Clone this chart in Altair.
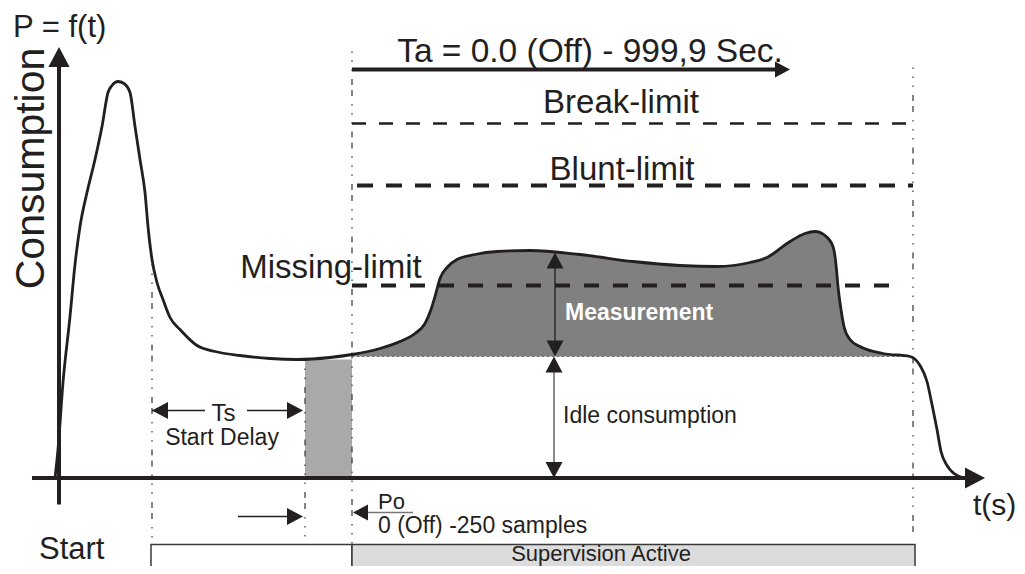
import altair as alt
import pandas as pd

# ---------------- data (t = time units, P = consumption units) ----------------
curve_t = [-0.4, -0.1, 0.4, 1.1, 1.6, 2.1, 2.8, 3.6, 4.3, 4.9, 5.3, 5.9, 6.5, 7.1, 7.6, 8.1,
           8.6, 8.9, 9.3, 9.8, 10.4, 11.1, 12.1, 13.8, 15.6, 18.1, 21.1, 23.8, 27.1, 29.3,
           32.1, 34.1, 35.6, 36.6, 37.2, 37.6, 38.1, 38.9, 39.8, 41.6, 43.8, 47.1, 52.1,
           57.4, 62.1, 65.8, 69.1, 70.8, 73.1, 74.6, 75.6, 76.6, 77.4, 77.7, 77.9, 78.2,
           78.5, 79.1, 80.1, 82.4, 85.1, 86.1, 86.8, 87.3, 87.8, 88.2, 88.8, 89.5, 90.4]
curve_p = [0.0, 2.85, 9.55, 16.15, 21.35, 25.15, 28.55, 31.85, 35.15, 38.55, 39.25, 39.65,
           39.45, 38.55, 35.15, 31.85, 28.55, 25.15, 21.85, 19.55, 17.85, 16.05, 14.85, 13.25,
           12.65, 12.25, 11.95, 11.85, 12.05, 12.35, 12.95, 13.65, 14.45, 15.45, 16.85, 18.15,
           19.95, 21.15, 21.85, 22.35, 22.65, 22.75, 22.35, 21.65, 21.25, 21.15, 21.55, 22.05,
           23.65, 24.45, 24.65, 24.25, 23.15, 21.35, 19.15, 16.85, 15.15, 13.85, 13.15, 12.45,
           12.15, 11.25, 9.65, 7.35, 4.85, 2.65, 1.25, 0.45, 0.05]

idle_level = 12.15
meas_range = [29.3, 85.1]
pre_window = [24.6, 29.3, 0.0, 11.85]          # t1, t2, P1, P2 (Po window)

limit_names = ["Break-limit", "Blunt-limit", "Missing-limit"]
limit_levels = [35.45, 29.25, 19.25]
limit_starts = [29.3, 29.8, 29.3]
limit_ends = [85.4, 85.4, 84.4]

marker_times = [9.3, 24.6, 29.3, 85.4]
marker_tops = [21.35, 11.85, 42.65, 41.05]
marker_bottoms = [-10.0, -10.0, -6.65, -6.15]

box_starts = [9.2, 29.3]
box_ends = [29.3, 85.6]
box_top, box_bottom = -6.65, -10.0

X_DOM = [-5.1, 95.8]
Y_DOM = [-8.8, 47.0]

INK = "#231f20"
FONT = "Liberation Sans, Arial, Helvetica, sans-serif"
HEAD = "M0,0L0.53,1L-0.53,1Z"


def X(f):
    return alt.X(f, type="quantitative", scale=alt.Scale(domain=X_DOM, nice=False, zero=False), axis=None)


def Y(f):
    return alt.Y(f, type="quantitative", scale=alt.Scale(domain=Y_DOM, nice=False, zero=False), axis=None)


def rules(rows, **mark):
    df = pd.DataFrame(rows, columns=["t", "p", "t2", "p2"])
    return alt.Chart(df).mark_rule(**mark).encode(
        x=X("t"), y=Y("p"), x2=alt.X2("t2"), y2=alt.Y2("p2"))


def heads(pts, angle, size, color=INK):
    df = pd.DataFrame(pts, columns=["t", "p"])
    return alt.Chart(df).mark_point(shape=HEAD, filled=True, size=size, angle=angle,
                                    color=color, opacity=1, strokeWidth=0).encode(
        x=X("t"), y=Y("p"))


def label(text, t, p, size, align="left", color=INK, weight="normal", angle=0):
    df = pd.DataFrame({"t": [t], "p": [p], "txt": [text]})
    kw = dict(align=align, baseline="alphabetic", fontSize=size, font=FONT,
              color=color, fontWeight=weight)
    if angle:
        kw["angle"] = angle
    return alt.Chart(df).mark_text(**kw).encode(x=X("t"), y=Y("p"), text="txt:N")


curve_df = pd.DataFrame({"t": curve_t, "p": curve_p})
meas_df = curve_df[(curve_df.t >= meas_range[0]) & (curve_df.t <= meas_range[1])].copy()
meas_df["base"] = idle_level

layers = []

# light grey window before supervision
win = pd.DataFrame({"t": [pre_window[0]], "t2": [pre_window[1]], "p": [pre_window[2]], "p2": [pre_window[3]]})
layers.append(alt.Chart(win).mark_rect(color="#a9a9a9").encode(
    x=X("t"), x2=alt.X2("t2"), y=Y("p"), y2=alt.Y2("p2")))

# measurement area
layers.append(alt.Chart(meas_df).mark_area(color="#808080", interpolate="monotone", opacity=1).encode(
    x=X("t"), y=Y("p"), y2=alt.Y2("base")))

# idle dotted line
layers.append(rules([[meas_range[0], idle_level, meas_range[1] + 0.3, idle_level]],
                    color="#6d6d6d", strokeWidth=1, strokeDash=[2, 3]))

# vertical dash-dot markers
layers.append(rules([[marker_times[i], marker_tops[i], marker_times[i], marker_bottoms[i]] for i in range(4)],
                    color="#444444", strokeWidth=1.3,
                    strokeDash=[1.5, 7.5, 1.5, 7.5, 1.5, 8, 6, 5, 6, 8], clip=True))

# limit lines
dash_styles = [dict(strokeWidth=2.3, strokeDash=[14, 13]),
               dict(strokeWidth=4, strokeDash=[16, 13]),
               dict(strokeWidth=4, strokeDash=[15, 14])]
for i in range(3):
    layers.append(rules([[limit_starts[i], limit_levels[i], limit_ends[i], limit_levels[i]]],
                        color=INK, **dash_styles[i]))

# curve
layers.append(alt.Chart(curve_df).mark_line(color=INK, strokeWidth=2.8, interpolate="monotone").encode(
    x=X("t"), y=Y("p")))

# axes
layers.append(rules([[0, -2.65, 0, 41.3], [-2.7, 0, 90.8, 0]], color=INK, strokeWidth=4))
layers.append(heads([[0, 43.1]], 0, 1600))
layers.append(heads([[92.6, 0]], 90, 1600))

# Ta arrow
layers.append(rules([[29.3, 40.85, 72.0, 40.85]], color=INK, strokeWidth=4))
layers.append(heads([[73.1, 40.85]], 90, 900))

# measurement / idle double arrows
layers.append(rules([[49.6, 12.4, 49.6, 22.3]], color=INK, strokeWidth=1.3))
layers.append(rules([[49.5, 0.2, 49.5, 11.9]], color="#8a8a8a", strokeWidth=2))
layers.append(heads([[49.6, 22.55], [49.5, 12.15]], 0, 1024))
layers.append(heads([[49.6, 12.15], [49.5, 0.0]], 180, 1024))

# Ts arrows
layers.append(rules([[9.3, 6.75, 14.6, 6.75], [18.8, 6.75, 24.0, 6.75], [17.9, -3.85, 24.0, -3.85]],
                    color=INK, strokeWidth=1.4))
layers.append(heads([[9.3, 6.75]], 270, 1024))
layers.append(heads([[24.4, 6.75], [24.4, -3.85]], 90, 1024))

# Po arrow
layers.append(rules([[29.6, -3.45, 35.4, -3.45]], color="#777777", strokeWidth=1.5))
layers.append(heads([[29.4, -3.45]], 270, 900))

# bottom boxes
boxes = pd.DataFrame({"t": box_starts, "t2": box_ends, "p": [box_top] * 2, "p2": [box_bottom] * 2,
                      "kind": ["idle", "active"]})
layers.append(alt.Chart(boxes).mark_rect(stroke="#3a3a3a", strokeWidth=1.5, clip=True).encode(
    x=X("t"), x2=alt.X2("t2"), y=Y("p"), y2=alt.Y2("p2"),
    color=alt.Color("kind:N", scale=alt.Scale(domain=["idle", "active"], range=["#ffffff", "#dcdcdc"]),
                    legend=None)))

# texts
layers += [
    label("P = f(t)", -4.6, 44.15, 31),
    label("Consumption", -1.5, 30.95, 41, align="center", angle=270),
    label("Ta = 0.0 (Off) - 999,9 Sec.", 53.1, 41.65, 33.5, align="center"),
    label(limit_names[0], 56.2, 36.55, 33, align="center"),
    label(limit_names[1], 56.3, 29.85, 33, align="center"),
    label(limit_names[2], 27.2, 20.05, 33, align="center"),
    label("Measurement", 50.6, 15.85, 23, color="#ffffff", weight="bold"),
    label("Idle consumption", 50.4, 5.55, 23),
    label("Ts", 16.45, 5.75, 24, align="center"),
    label("Start Delay", 16.3, 3.35, 23, align="center"),
    label("Po", 31.9, -3.05, 22),
    label("0 (Off) -250 samples", 31.9, -5.45, 23),
    label("Start", -2.0, -8.1, 31),
    label("Supervision Active", 54.2, -8.3, 22, align="center"),
    label("t(s)", 91.4, -3.65, 30),
]

chart = alt.layer(*layers).properties(
    width=1009, height=558, padding=0,
    autosize=alt.AutoSizeParams(type="none"),
).configure_view(stroke=None)

chart.save("out.html", embed_options={"renderer": "svg", "actions": False})
